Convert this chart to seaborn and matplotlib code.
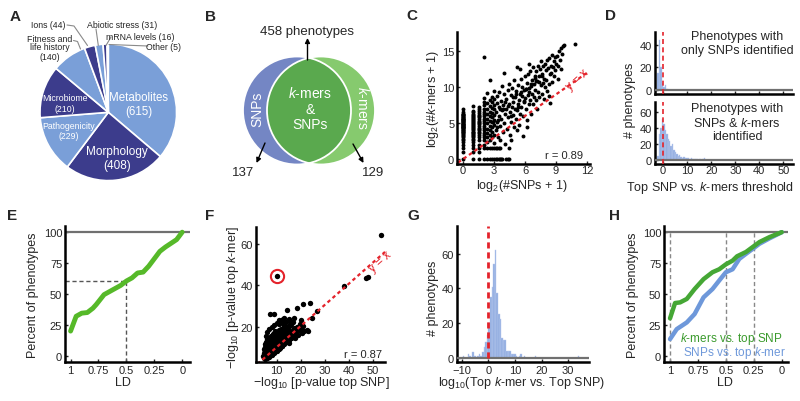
import numpy as np
import matplotlib
matplotlib.use("Agg")
import matplotlib.pyplot as plt
import seaborn as sns
from matplotlib.patches import Circle

# ---------------- data ----------------
# A: phenotype categories (pie)
pie_names = ["Metabolites", "Morphology", "Pathogenicity", "Microbiome",
             "Fitness and\nlife history", "Ions", "Abiotic stress", "mRNA levels", "Other"]
pie_counts = [615, 408, 229, 210, 140, 44, 31, 16, 5]

# B: venn counts
venn_snp_only = 137
venn_both = 458
venn_kmer_only = 129

# C: log2(#SNPs+1) vs log2(#k-mers+1)
c_y_at_0 = [0, 1, 1.58, 2, 2.32, 2.58, 2.81, 3, 3.17, 3.32, 3.46, 3.58, 3.7, 3.81, 3.91, 4, 4.09,
            4.17, 4.25, 4.32, 4.39, 4.46, 4.52, 4.58, 4.64, 4.7, 4.75, 4.81, 4.86, 4.91, 5, 5.09,
            5.17, 5.25, 5.32, 5.39, 5.46, 5.52, 5.58, 5.64, 5.7, 5.81, 5.91, 6, 6.09, 6.17, 6.25,
            6.32, 6.6, 7]
c_y_at_1 = [0, 1, 1.58, 2, 2.32, 2.58, 2.81, 3, 3.17, 3.32, 3.46, 3.58, 3.7, 3.81, 4, 4.17, 4.32,
            4.46, 4.58, 4.7, 4.81, 5, 5.17, 5.32, 5.46, 5.58, 5.7, 5.81, 6, 6.17, 6.32, 6.5, 6.7, 7.4]
c_y_at_158 = [0, 1, 1.58, 2, 2.58, 3, 3.32, 3.58, 3.81, 4, 4.17, 4.32, 4.58, 4.81, 5, 5.17, 5.32,
              5.58, 5.81, 6, 6.17, 6.46, 6.7, 7, 7.3]
c_y_at_2 = [0, 1.58, 2, 2.58, 3, 3.32, 3.58, 4, 4.32, 4.58, 5, 5.32, 5.58, 6, 6.32, 6.58, 7, 7.5,
            8, 8.5, 14.2]
c_row0_x = [2.32, 2.58, 2.81, 3, 3.17, 3.32, 3.46, 3.58, 3.7, 3.81, 4.17, 4.32, 4.46]
c_row16_x = [2.32, 2.58, 2.81, 3, 3.17, 3.32, 3.46, 3.58]
c_cloud_x = [2.32, 2.32, 2.32, 2.32, 2.32, 2.32, 2.32, 2.32, 2.32, 2.32,
             2.58, 2.58, 2.58, 2.58, 2.58, 2.58, 2.58, 2.58, 2.58, 2.58,
             2.81, 2.81, 2.81, 2.81, 2.81, 2.81, 2.81, 2.81, 2.81,
             3, 3, 3, 3, 3, 3, 3, 3, 3,
             3.17, 3.2, 3.25, 3.3, 3.32, 3.4, 3.45, 3.5, 3.5, 3.6, 3.6, 3.65, 3.7, 3.75, 3.8, 3.85,
             3.9, 3.95, 4, 4,
             4.05, 4.1, 4.15, 4.2, 4.25, 4.3, 4.35, 4.4, 4.45, 4.5, 4.55, 4.6, 4.65, 4.7, 4.75, 4.8,
             4.85, 4.9, 4.95, 5, 4.4, 4.6,
             5.05, 5.1, 5.15, 5.2, 5.25, 5.3, 5.35, 5.4, 5.45, 5.5, 5.55, 5.6, 5.65, 5.7, 5.75, 5.8,
             5.8, 5.85, 5.9, 5.95, 6, 5.5, 5.2,
             6.05, 6.1, 6.15, 6.2, 6.25, 6.3, 6.35, 6.4, 6.45, 6.5, 6.55, 6.6, 6.65, 6.7, 6.75, 6.8,
             6.85, 6.9, 6.95, 7, 6.4, 6.2,
             7.05, 7.1, 7.15, 7.2, 7.25, 7.3, 7.35, 7.4, 7.45, 7.5, 7.55, 7.6, 7.65, 7.7, 7.75, 7.8,
             7.85, 7.9, 7.95, 8,
             8.05, 8.1, 8.15, 8.2, 8.3, 8.35, 8.4, 8.45, 8.5, 8.55, 8.6, 8.65, 8.7, 8.8, 8.85, 8.9,
             8.95, 9,
             9.1, 9.2, 9.3, 9.4, 9.5, 9.6, 9.7, 9.8, 9.2, 9.5, 10.8, 8.3,
             3.4, 3.9, 4.3, 4.8, 5.1, 5.6, 6.1, 6.6, 7.1, 7.6, 3.6, 4.1, 4.6, 5.3, 5.9, 6.4, 7.0,
             7.4, 2.9, 3.3]
c_cloud_y = [2.3, 3, 3.6, 4.2, 5, 5.6, 6.3, 7, 7.8, 9.2,
             2.6, 3.3, 4, 4.6, 5.3, 6, 6.6, 7.4, 8.2, 11,
             3, 3.8, 4.5, 5.1, 5.8, 6.4, 7.1, 7.9, 8.6,
             2.2, 3.4, 4.8, 5.5, 6.2, 6.9, 7.5, 8.3, 9.5,
             4.1, 6.5, 7.8, 5.2, 8.8, 3, 6, 7.2, 9.4, 2.6, 4.6, 8.1, 5.6, 6.8, 10.2, 3.8,
             7.5, 9, 5, 12,
             6.3, 2.1, 8.4, 7, 4.2, 9.6, 5.8, 7.7, 10.5, 6.6, 3.3, 8.9, 5.2, 7.3, 9.9, 6.1,
             8, 4.5, 11, 7, 1.6, 2.7,
             8.6, 5.6, 9.5, 6.8, 12.8, 7.6, 10.3, 4.8, 8.2, 9, 6.3, 11.2, 7.3, 8.8, 10, 3.2,
             6, 9.6, 7.9, 11.6, 8.5, 12.5, 4,
             9.8, 7, 10.6, 5.5, 8.9, 11.8, 7.6, 9.3, 12.3, 8.2, 10.2, 6.3, 11, 9, 12.8, 7.7,
             10.5, 8.7, 11.6, 9.6, 13.2, 4.5,
             12.2, 8.2, 10.9, 7, 13, 9.4, 11.5, 8.7, 12.6, 10.3, 13.6, 9.1, 11.9, 10.6, 12.9, 8.3,
             11.2, 13.3, 10, 12.4,
             11, 13.8, 9.5, 12.7, 10.5, 14.1, 11.8, 7.8, 13, 12, 14.5, 10.8, 12.8, 13.7, 11.5, 14.2,
             12.4, 13.3,
             14.4, 12.9, 15.1, 13.8, 15.5, 14.6, 15.8, 15.9, 11.2, 12.5, 16, 8.8,
             5.5, 6.9, 7.4, 8.6, 9.1, 9.3, 9.8, 10.4, 10.9, 11.6, 7.0, 8.0, 6.0, 7.2, 8.1, 9.9, 11.3,
             10.8, 5.2, 4.4]

# D: top SNP vs k-mers threshold histograms (bin centres, counts)
d_only_centers = [-2.7, -2.1, -1.5, -0.9, -0.3, 0.3, 0.9, 1.5]
d_only_counts = [1, 15, 44, 20, 6, 3, 4, 1]
d_both_centers = [-2.1, -1.5, -0.9, -0.3, 0.3, 0.9, 1.5, 2.1, 2.7, 3.3, 3.9, 4.5, 5.1, 5.7, 6.3,
                  6.9, 7.5, 8.1, 8.7, 9.3, 9.9, 10.5, 11.1, 11.7, 12.3, 12.9, 13.5, 14.1, 15.3,
                  16.5, 17.1]
d_both_counts = [5, 33, 40, 52, 45, 38, 33, 26, 24, 18, 20, 12, 10, 8, 5, 6, 4, 3, 4, 2, 3, 2, 1,
                 2, 1, 1, 1, 1, 1, 1, 3]

# E: cumulative percent of phenotypes vs LD
e_ld = [1, 0.95, 0.9, 0.85, 0.8, 0.77, 0.7, 0.65, 0.6, 0.55, 0.5, 0.45, 0.4, 0.35, 0.3, 0.25,
        0.2, 0.15, 0.1, 0.05, 0]
e_pct = [20, 32, 34.5, 35, 38.5, 41.5, 49.5, 52, 54.5, 57, 60.5, 63, 67, 67.7, 72.5, 78.5,
         84.5, 88, 91, 94, 100]
e_ref_ld = 0.5
e_ref_pct = 60.5

# F: -log10 p-value top SNP vs top k-mer
f_x = [5, 5, 5.2, 5.3, 5.4, 5.5, 5.6, 5.7, 5.8, 5.9, 6, 6,
       6.1, 6.2, 6.3, 6.4, 6.5, 6.6, 6.7, 6.8, 6.9, 7, 7, 6.5,
       7.1, 7.2, 7.3, 7.4, 7.5, 7.6, 7.7, 7.8, 7.9, 8, 8, 7.5,
       8.1, 8.2, 8.3, 8.4, 8.5, 8.6, 8.7, 8.8, 8.9, 9, 9, 8.5,
       9.1, 9.2, 9.3, 9.4, 9.5, 9.6, 9.7, 9.8, 9.9, 10, 10, 9.5,
       10.1, 10.2, 10.3, 10.4, 10.5, 10.6, 10.7, 10.8, 10.9, 11, 11,
       11.2, 11.3, 11.4, 11.5, 11.6, 11.7, 11.8, 11.9, 12, 12,
       12.2, 12.4, 12.6, 12.8, 13, 13.2, 13.4, 13.6, 13.8, 14, 13, 12.5,
       14.2, 14.5, 14.8, 15, 15.2, 15.5, 15.8, 16, 15, 14.5,
       16.3, 16.6, 17, 17.3, 17.6, 18, 18.4, 18.8, 19.2, 19.5, 20, 20.5, 21, 21.5,
       4.6, 4.8, 5.1, 5.6, 6.2, 6.8, 7.4, 8.2, 5.3, 6.0, 6.7, 7.2, 7.9, 8.6, 9.4,
       9, 7.2, 14.4, 18.5, 21, 23.8, 26.8, 22.5, 23.1, 38, 47.3, 47.8, 53.2, 10,
       11, 13, 16, 17, 20, 24.5, 12.5,
       4.8, 5.2, 5.5, 5.8, 6.1, 6.4, 6.7, 7, 7.3, 7.6, 7.9, 8.2, 8.5, 8.8, 9.1, 9.4, 9.7, 10,
       10.3, 10.6, 10.9, 11.2, 11.5, 11.8, 12.1, 12.4, 12.7, 13, 13.3, 13.6,
       5, 5.5, 6, 6.5, 7, 7.5, 8, 8.5, 9, 9.5, 10, 10.5, 11, 11.5, 12,
       5.2, 5.8, 6.3, 6.8, 7.3, 7.8, 8.3, 8.8, 9.3, 9.8, 10.3,
       5.5, 6, 6.6, 7.2, 7.8, 8.4, 9,
       6, 7, 8, 9, 10, 11, 12, 13, 14, 15, 16, 17,
       4.5, 4.6, 5, 5.3, 4.8, 5.5, 6, 5.7,
       8, 9, 10, 11, 12, 7, 6, 13, 14, 15,
       5.1, 5.6, 6.1, 6.6, 7.1, 7.6, 8.1, 8.6, 9.1, 9.6, 10.1, 10.6, 11.1, 11.6, 12.1, 12.6,
       13.1, 13.6, 14.1, 14.6, 15.1, 15.6, 16.1, 16.6,
       5.4, 5.9, 6.4, 6.9, 7.4, 7.9, 8.4, 8.9, 9.4, 9.9, 10.4, 10.9, 11.4, 11.9, 12.4,
       6.2, 7.1, 8.0, 8.9, 9.8, 10.7, 11.6, 12.5, 13.4, 14.3, 15.2, 16.1, 17.0, 18.0, 19.0]
f_y = [5.5, 6.5, 7.5, 8.5, 6, 9.5, 7, 5.8, 8, 10.5, 6.3, 9,
       7.4, 11, 8.3, 5.9, 9.8, 7, 12, 8.8, 6.5, 10.5, 13.5, 14.5,
       7.8, 9.3, 11.5, 6.8, 12.6, 8.5, 10, 7.5, 13.2, 9, 11, 15.5,
       7.2, 12.2, 8.2, 14, 10.2, 9.5, 11.7, 8, 13, 10.8, 15.2, 16.5,
       9, 12, 8.5, 14.2, 11, 10, 13, 9.2, 15.8, 11.8, 17, 17.8,
       10.3, 13.5, 9.6, 12.5, 16, 11, 14.5, 10.2, 17.5, 12.2, 18.5,
       11, 14, 9.8, 16.5, 12.8, 11.5, 15, 19, 13.5, 10.5,
       12, 17, 14, 11.5, 16, 13, 19, 14.8, 12.5, 17.5, 20.5, 22,
       14, 16, 13, 18.5, 15, 21, 14.5, 17, 12, 20,
       15.5, 18, 16.5, 19.5, 14.5, 17.2, 20, 16, 18.5, 21.5, 19, 17, 20.5, 18,
       5.0, 6.2, 4.6, 5.1, 5.4, 5.9, 6.4, 6.8, 11.5, 12.5, 10.8, 11.8, 12.8, 13.6, 13.8,
       26, 25.9, 27.8, 29.1, 30.7, 31.5, 27.5, 18.6, 17.9, 39.5, 43.5, 44, 64.3, 44.5,
       23, 24, 22.5, 24, 23, 24, 23.5,
       5.2, 5.8, 5.2, 6.6, 5.6, 7.2, 6.1, 7.8, 6.6, 8.4, 7.2, 9, 7.8, 9.6, 8.4, 10.2, 9, 10.8,
       9.6, 11.4, 10.2, 12, 10.8, 12.6, 11.4, 13.2, 12, 13.8, 12.6, 14.4,
       7, 8, 8.5, 9.5, 10, 10.8, 11.5, 12.3, 13, 13.8, 14.5, 15.2, 15.8, 16.5, 17,
       9, 10, 11, 11.8, 12.5, 13.3, 14, 14.8, 15.5, 16.2, 17,
       11, 12.5, 13.5, 14.2, 15, 15.8, 16.8,
       4.8, 5.5, 6.5, 7.5, 8.5, 9.5, 10.5, 11.5, 12.5, 13.5, 14.5, 15.5,
       6, 7.5, 8.3, 10, 9.3, 12.5, 14, 15.5,
       20, 21, 22, 21.5, 23, 19, 17.5, 21, 22.5, 23.5,
       6.1, 6.8, 7.5, 8.2, 8.9, 9.6, 10.3, 11.0, 11.7, 12.4, 13.1, 13.8, 14.5, 15.2, 15.9, 16.6,
       17.3, 18.0, 18.7, 19.4, 20.1, 20.8, 21.5, 22.2,
       4.9, 5.3, 5.8, 6.2, 6.7, 7.1, 7.6, 8.0, 8.5, 8.9, 9.4, 9.8, 10.3, 10.7, 11.2,
       9.5, 10.6, 11.7, 12.3, 13.1, 13.9, 14.6, 15.3, 15.8, 16.4, 16.9, 17.5, 17.9, 18.8, 19.6]
f_marked_x = [10]
f_marked_y = [44.5]

# G: log10(top k-mer vs top SNP) histogram
g_centers = [-9.3, -7.5, -6.9, -5.7, -5.1, -3.9, -3.3, -2.7, -2.1, -1.5, -0.9, -0.3, 0.3, 0.9,
             1.5, 2.1, 2.7, 3.3, 3.9, 4.5, 5.1, 5.7, 6.3, 6.9, 7.5, 8.1, 8.7, 9.3, 9.9, 10.5,
             11.7, 12.3, 13.5, 17.7, 33.9]
g_counts = [1, 2, 1, 3, 1, 1, 2, 1, 3, 6, 9, 13, 20, 35, 41, 54, 62, 37, 25, 22, 11, 10, 10, 4,
            4, 4, 2, 2, 2, 1, 1, 2, 1, 1, 1]

# H: cumulative percent vs LD, two series
h_ld = [1, 0.955, 0.91, 0.85, 0.78, 0.7, 0.62, 0.56, 0.5, 0.44, 0.4, 0.32, 0.26, 0.2, 0.11, 0]
h_kmer_pct = [30.3, 42.7, 43.2, 46, 54, 62, 67.6, 70, 74, 77, 80.5, 84, 88, 92, 96, 100]
h_ld_snp = [1, 0.94, 0.85, 0.78, 0.7, 0.62, 0.55, 0.5, 0.44, 0.38, 0.32, 0.26, 0.2, 0.11, 0]
h_snp_pct = [13.5, 21.6, 27, 33.8, 47.3, 54, 62, 67.6, 70, 78.4, 82.5, 86.5, 90.6, 95, 100]
h_guides = [1, 0.5, 0.25]

# ---------------- style ----------------
sns.set_style("ticks")
plt.rcParams["font.family"] = ["Liberation Sans", "DejaVu Sans"]
plt.rcParams["mathtext.fontset"] = "custom"
plt.rcParams["mathtext.rm"] = "Liberation Sans"
plt.rcParams["mathtext.it"] = "Liberation Sans:italic"

W, H = 800, 402
LIGHT = "#7a9fd8"
DARK = "#3c3c8c"
RED = "#e4232b"
HISTC = "#7f9fdc"
GREYLINE = "#707070"

fig = plt.figure(figsize=(8, 4.02), dpi=100)


def px_axes(l, t, r, b):
    return fig.add_axes([l / W, 1 - b / H, (r - l) / W, (b - t) / H])


def style(ax):
    sns.despine(ax=ax)
    for s in ["left", "bottom"]:
        ax.spines[s].set_linewidth(1.8)
        ax.spines[s].set_color("black")
    ax.tick_params(direction="in", length=2.5, width=1, labelsize=8, pad=2)
    ax.set_xlabel("")
    ax.set_ylabel("")


# ---------------- A: pie ----------------
ax_a = px_axes(40, 45, 176.6, 181.6)
pie_colors = [LIGHT if i % 2 == 0 else DARK for i in range(len(pie_counts))]
ax_a.pie(pie_counts, colors=pie_colors, startangle=90, counterclock=False,
         wedgeprops=dict(edgecolor="white", linewidth=1.2))
ax_a.set_xlim(-1, 1)
ax_a.set_ylim(-1, 1)
ax_a.set_aspect("equal")

# ---------------- C: scatter ----------------
c_x = (list(np.full(len(c_y_at_0), 0.0)) + list(np.full(len(c_y_at_1), 1.0))
       + list(np.full(len(c_y_at_158), 1.58)) + list(np.full(len(c_y_at_2), 2.0))
       + c_row0_x + c_row16_x + c_cloud_x)
c_y = (c_y_at_0 + c_y_at_1 + c_y_at_158 + c_y_at_2 + list(np.zeros(len(c_row0_x)))
       + list(np.full(len(c_row16_x), 1.58)) + c_cloud_y)
ax_c = px_axes(457, 33, 590, 165)
sns.scatterplot(x=c_x, y=c_y, color="black", s=8, linewidth=0, ax=ax_c)
ax_c.plot([-0.5, 12], [-0.5, 12], color=RED, lw=1.6, ls=(0, (1.6, 1.4)))
ax_c.set_xlim(-0.6, 12.3)
ax_c.set_ylim(-0.7, 17.7)
ax_c.set_xticks([0, 3, 6, 9, 12])
ax_c.set_yticks([0, 5, 10, 15])
style(ax_c)
ax_c.tick_params(axis="x", pad=1)

# ---------------- D: two histograms ----------------
ax_d1 = px_axes(655, 33, 793, 95)
sns.histplot(x=d_only_centers, weights=d_only_counts, binwidth=0.6, binrange=(-3.0, 1.8),
             color=HISTC, alpha=0.85, edgecolor="#b8caee", linewidth=0.3, ax=ax_d1)
ax_d1.axhline(0, color=GREYLINE, lw=1.6, zorder=3)
ax_d1.axvline(0, color=RED, lw=1.2, ls=(0, (3, 2)), zorder=4)
ax_d1.set_xlim(-3.4, 54)
ax_d1.set_ylim(-3.5, 51)
ax_d1.set_xticks([0, 10, 20, 30, 40, 50])
ax_d1.set_xticklabels([])
ax_d1.set_yticks([0, 20, 40])
style(ax_d1)

ax_d2 = px_axes(655, 103, 793, 165)
sns.histplot(x=d_both_centers, weights=d_both_counts, binwidth=0.6, binrange=(-2.4, 18.0),
             color=HISTC, alpha=0.85, edgecolor="#b8caee", linewidth=0.3, ax=ax_d2)
ax_d2.axhline(0, color=GREYLINE, lw=1.6, zorder=3)
ax_d2.axvline(0, color=RED, lw=1.2, ls=(0, (3, 2)), zorder=4)
ax_d2.set_xlim(-3.4, 54)
ax_d2.set_ylim(-5, 73)
ax_d2.set_xticks([0, 10, 20, 30, 40, 50])
ax_d2.set_yticks([0, 20, 40, 60])
style(ax_d2)
ax_d2.tick_params(axis="x", pad=1)

# ---------------- E: LD curve ----------------
ax_e = px_axes(65, 227, 190, 363)
ax_e.axhline(100, color=GREYLINE, lw=1.6, zorder=1)
ax_e.plot([1.05, e_ref_ld], [e_ref_pct, e_ref_pct], color="#555555", lw=1, ls=(0, (3, 2)))
ax_e.plot([e_ref_ld, e_ref_ld], [-5, e_ref_pct], color="#555555", lw=1, ls=(0, (3, 2)))
sns.lineplot(x=e_ld, y=e_pct, color="#56b929", lw=3.5, sort=False, ax=ax_e)
ax_e.set_xlim(1.05, -0.07)
ax_e.set_ylim(-5, 105)
ax_e.set_xticks([1, 0.75, 0.5, 0.25, 0])
ax_e.set_xticklabels(["1", "0.75", "0.5", "0.25", "0"])
ax_e.set_yticks([0, 25, 50, 75, 100])
style(ax_e)

# ---------------- F: p-value scatter ----------------
ax_f = px_axes(256, 228, 385, 363)
sns.scatterplot(x=f_x, y=f_y, color="black", s=15, linewidth=0, ax=ax_f)
ax_f.plot([2, 55], [2, 56], color=RED, lw=1.6, ls=(0, (1.6, 1.4)))
ax_f.plot(f_marked_x, f_marked_y, "o", ms=9.5, mfc="none", mec=RED, mew=1.5)
ax_f.set_xlim(1.4, 55)
ax_f.set_ylim(3, 68)
ax_f.set_xticks([10, 20, 30, 40, 50])
ax_f.set_yticks([20, 40, 60])
style(ax_f)

# ---------------- G: histogram ----------------
ax_g = px_axes(457, 227, 589, 363)
sns.histplot(x=g_centers, weights=g_counts, binwidth=0.6, binrange=(-9.6, 34.2),
             color=HISTC, alpha=0.85, edgecolor="#b8caee", linewidth=0.3, ax=ax_g)
ax_g.axhline(0, color=GREYLINE, lw=1.6, zorder=3)
ax_g.plot([0, 0], [0, 76], color=RED, lw=2, ls=(0, (2.2, 1.4)), zorder=4)
ax_g.set_xlim(-11.8, 37.8)
ax_g.set_ylim(-2.6, 76)
ax_g.set_xticks([-10, 0, 10, 20, 30])
ax_g.set_yticks([0, 20, 40, 60])
style(ax_g)

# ---------------- H: two LD curves ----------------
ax_h = px_axes(664, 227, 788, 363)
ax_h.axhline(100, color=GREYLINE, lw=1.6, zorder=1)
for g in h_guides:
    ax_h.plot([g, g], [-5, 100], color="#888888", lw=1, ls=(0, (3, 2)), zorder=1)
sns.lineplot(x=h_ld_snp, y=h_snp_pct, color="#6e98da", lw=3.2, sort=False, ax=ax_h)
sns.lineplot(x=h_ld, y=h_kmer_pct, color="#45a735", lw=3.2, sort=False, ax=ax_h)
ax_h.set_xlim(1.054, -0.056)
ax_h.set_ylim(-5, 105)
ax_h.set_xticks([1, 0.75, 0.5, 0.25, 0])
ax_h.set_xticklabels(["1", "0.75", "0.5", "0.25", "0"])
ax_h.set_yticks([0, 25, 50, 75, 100])
style(ax_h)

# ---------------- overlay: venn, labels, annotations ----------------
ov = fig.add_axes([0, 0, 1, 1], zorder=10)
ov.set_xlim(0, W)
ov.set_ylim(H, 0)
ov.axis("off")
ov.patch.set_alpha(0)

# B: venn
left_c = Circle((297, 111.5), 54, facecolor="#7486c4", edgecolor="none")
right_c = Circle((321, 111.5), 54, facecolor="#86ca6e", edgecolor="none")
ov.add_patch(left_c)
ov.add_patch(right_c)
lens = Circle((321, 111.5), 54, facecolor="#5aa94e", edgecolor="none")
ov.add_patch(lens)
lens.set_clip_path(left_c)
ov.add_patch(Circle((297, 111.5), 54, fill=False, edgecolor="white", lw=1.3))
ov.add_patch(Circle((321, 111.5), 54, fill=False, edgecolor="white", lw=1.3))
ov.text(257, 109, "SNPs", rotation=90, color="white", fontsize=10, ha="center", va="center")
ov.text(362, 108, "$\\it{k}$-mers", rotation=-90, color="white", fontsize=10, ha="center", va="center")
ov.text(310, 109, "$\\it{k}$-mers\n&\nSNPs", color="white", fontsize=10, ha="center", va="center",
        linespacing=1.15)
arrow = dict(arrowstyle="-|>", lw=1, color="black", mutation_scale=7, shrinkA=0, shrinkB=0)
ov.annotate("", xy=(307.5, 39), xytext=(307.5, 61), arrowprops=arrow)
ov.annotate("", xy=(256.5, 164), xytext=(265, 144), arrowprops=arrow)
ov.annotate("", xy=(363.5, 164), xytext=(353, 145), arrowprops=arrow)
ov.text(306.5, 32, f"{venn_both} phenotypes", fontsize=9.5, ha="center", va="center")
ov.text(243, 173.5, f"{venn_snp_only}", fontsize=9.5, ha="center", va="center")
ov.text(373, 173.5, f"{venn_kmer_only}", fontsize=9.5, ha="center", va="center")

# A: pie labels
ov.text(139, 105, f"{pie_names[0]}\n({pie_counts[0]})", color="white", fontsize=8.3,
        ha="center", va="center", linespacing=1.25)
ov.text(116.7, 159, f"{pie_names[1]}\n({pie_counts[1]})", color="white", fontsize=8.5,
        ha="center", va="center", linespacing=1.2)
ov.text(68.5, 131.5, f"{pie_names[2]}\n({pie_counts[2]})", color="white", fontsize=6.3,
        ha="center", va="center", linespacing=1.2)
ov.text(65, 104, f"{pie_names[3]}\n({pie_counts[3]})", color="white", fontsize=6.3,
        ha="center", va="center", linespacing=1.2)
ov.text(50, 48, f"{pie_names[4]}\n({pie_counts[4]})", fontsize=6.3, ha="center", va="center",
        linespacing=1.0)
ov.text(48, 26, f"{pie_names[5]} ({pie_counts[5]})", fontsize=6.3, ha="center", va="center")
ov.text(122, 26, f"{pie_names[6]} ({pie_counts[6]})", fontsize=6.3, ha="center", va="center")
ov.text(140, 37, f"{pie_names[7]} ({pie_counts[7]})", fontsize=6.3, ha="center", va="center")
ov.text(163.5, 47.5, f"{pie_names[8]} ({pie_counts[8]})", fontsize=6.3, ha="center", va="center")
lead = dict(color="#8a8a8a", lw=0.8)
ov.plot([73.5, 77.5, 80.5], [41.5, 42.5, 50], **lead)
ov.plot([67, 74, 87.5], [26, 27, 46.5], **lead)
ov.plot([96, 98.3], [30, 46.5], **lead)
ov.plot([111, 106], [38, 46.5], **lead)
ov.plot([148, 109], [47, 45.5], **lead)

# C annotations
ov.text(522, 186, "log$_2$(#SNPs + 1)", fontsize=9, ha="center", va="center")
ov.text(433, 99, "log$_2$(#$\\it{k}$-mers + 1)", fontsize=9, ha="center", va="center", rotation=90)
ov.text(583, 156, "r = 0.89", fontsize=8, ha="right", va="center")
ov.text(577, 80, "y = x", fontsize=8.5, color=RED, ha="center", va="center", rotation=42)

# D annotations
ov.text(630, 100, "# phenotypes", fontsize=9, ha="center", va="center", rotation=90)
ov.text(710, 188, "Top SNP vs. $\\it{k}$-mers threshold", fontsize=9, ha="center", va="center")
ov.text(737, 44, "Phenotypes with\nonly SNPs identified", fontsize=9, ha="center", va="center",
        linespacing=1.15)
ov.text(737, 123, "Phenotypes with\nSNPs & $\\it{k}$-mers\nidentified", fontsize=9, ha="center",
        va="center", linespacing=1.15)

# E annotations
ov.text(33, 295, "Percent of phenotypes", fontsize=9, ha="center", va="center", rotation=90)
ov.text(123, 383, "LD", fontsize=9, ha="center", va="center")

# F annotations
ov.text(233, 297, "\u2212log$_{10}$ [p-value top $\\it{k}$-mer]", fontsize=9, ha="center",
        va="center", rotation=90)
ov.text(321, 383, "\u2212log$_{10}$ [p-value top SNP]", fontsize=9, ha="center", va="center")
ov.text(382, 355, "r = 0.87", fontsize=8, ha="right", va="center")
ov.text(380, 262, "y = x", fontsize=8.5, color=RED, ha="center", va="center", rotation=42)

# G annotations
ov.text(433, 298, "# phenotypes", fontsize=9, ha="center", va="center", rotation=90)
ov.text(522, 383, "log$_{10}$(Top $\\it{k}$-mer vs. Top SNP)", fontsize=9, ha="center", va="center")

# H annotations
ov.text(633, 295, "Percent of phenotypes", fontsize=9, ha="center", va="center", rotation=90)
ov.text(725, 383, "LD", fontsize=9, ha="center", va="center")
ov.text(783, 339, "$\\it{k}$-mers vs. top SNP", fontsize=8.5, color="#3a9a2c", ha="right", va="center")
ov.text(786, 353.5, "SNPs vs. top $\\it{k}$-mer", fontsize=8.5, color="#6e98da", ha="right", va="center")

# panel letters
for letter, (lx, ly) in zip("ABCDEFGH", [(15, 17), (210, 17), (412, 16), (610, 16),
                                          (12, 216), (210, 216), (413, 216), (615, 216)]):
    ov.text(lx, ly, letter, fontsize=11, fontweight="bold", ha="center", va="center")

fig.savefig("out.png", dpi=100)
